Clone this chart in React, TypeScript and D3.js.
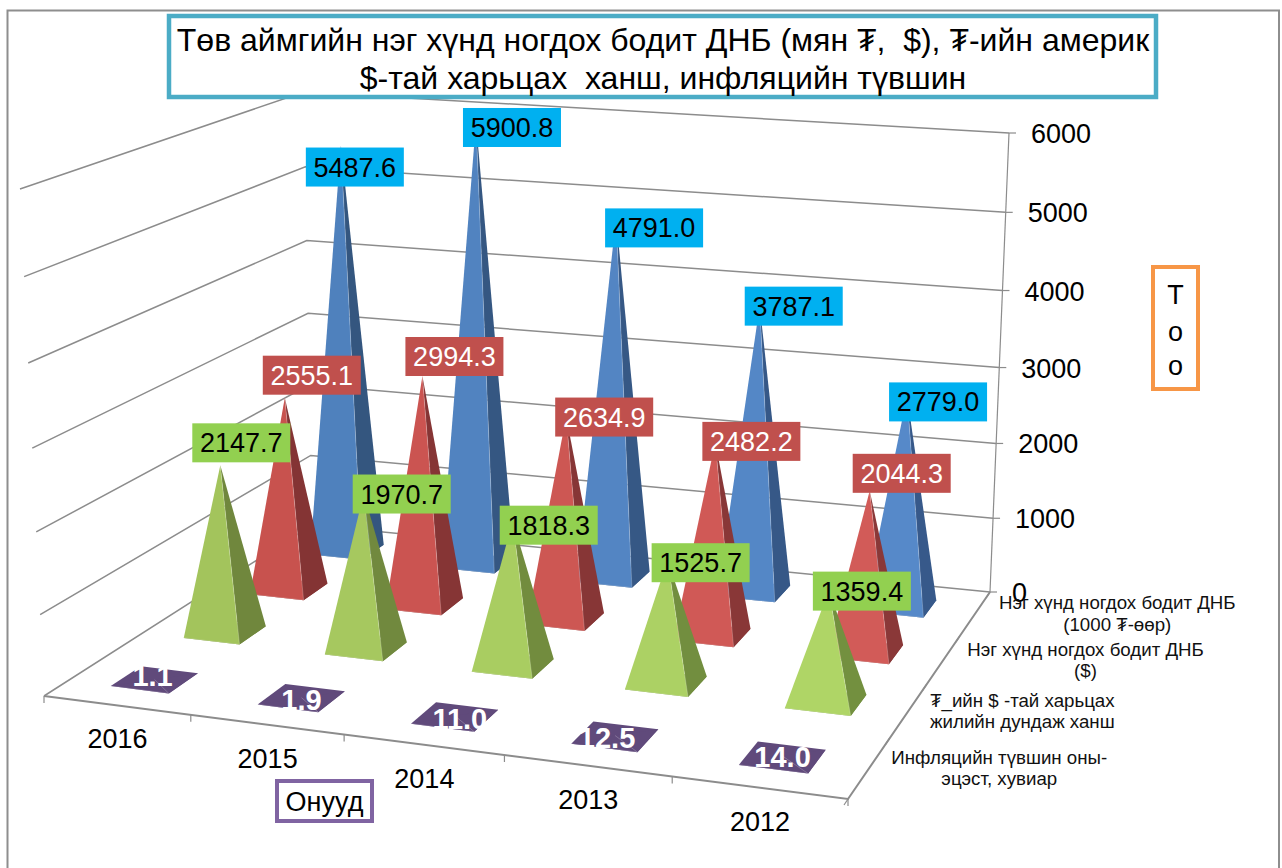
import * as d3 from 'd3';

const YEARS = ['2016', '2015', '2014', '2013', '2012'];
// front to back, the order they stand on the depth axis
const SERIES = ['inflation', 'rate', 'usd', 'mnt'];

const MNT_GDP = [5487.6, 5900.8, 4791.0, 3787.1, 2779.0];
const USD_GDP = [2555.1, 2994.3, 2634.9, 2482.2, 2044.3];
const RATE = [2147.7, 1970.7, 1818.3, 1525.7, 1359.4];
const INFLATION = [1.1, 1.9, 11.0, 12.5, 14.0];

const VALUE_TICKS = [0, 1000, 2000, 3000, 4000, 5000, 6000];

const SERIES_LABELS = [
  ['Инфляцийн түвшин оны-', 'эцэст, хувиар'],
  ['₮_ийн $ -тай харьцах', 'жилийн дундаж ханш'],
  ['Нэг хүнд ногдох бодит ДНБ', '($)'],
  ['Нэг хүнд ногдох бодит ДНБ', '(1000 ₮-өөр)'],
];

const TITLE_LINES = [
  'Төв аймгийн нэг хүнд ногдох бодит ДНБ (мян ₮,  $), ₮-ийн америк',
  '$-тай харьцах  ханш, инфляцийн түвшин',
];

const FONT = '"Liberation Sans", Arial, sans-serif';
const GRID = '#8c8c8c';

type Pt = [number, number];

// camera of the 3D box: corners of the floor and of the top plane, in the order
// front-left, front-right, back-right, back-left
const FLOOR: Pt[] = [[44, 696], [848, 799], [990, 592], [312, 525]];
const CEILING: Pt[] = [[20, 189], [864, 252], [1009, 133], [304, 92]];
const DEPTH_SQUEEZE = 1.045;

function quadMap(q: Pt[]) {
  const [[x0, y0], [x1, y1], [x2, y2], [x3, y3]] = q;
  const dx1 = x1 - x2, dx2 = x3 - x2, sx = x0 - x1 + x2 - x3;
  const dy1 = y1 - y2, dy2 = y3 - y2, sy = y0 - y1 + y2 - y3;
  const den = dx1 * dy2 - dx2 * dy1;
  const g = (sx * dy2 - dx2 * sy) / den;
  const h = (dx1 * sy - sx * dy1) / den;
  const a = x1 - x0 + g * x1, b = x3 - x0 + h * x3;
  const d = y1 - y0 + g * y1, e = y3 - y0 + h * y3;
  return (u: number, v: number): Pt => {
    const k = g * u + h * v + 1;
    return [(a * u + b * v + x0) / k, (d * u + e * v + y0) / k];
  };
}

const floorAt = quadMap(FLOOR);
const ceilingAt = quadMap(CEILING);

function project(u: number, v: number, w: number): Pt {
  const p0 = floorAt(u, v);
  const p1 = ceilingAt(u, v);
  const t = w / (w + (1 - w) * DEPTH_SQUEEZE);
  return [p0[0] + (p1[0] - p0[0]) * t, p0[1] + (p1[1] - p0[1]) * t];
}

const uScale = d3.scaleBand<string>().domain(YEARS).range([0, 1]).paddingInner(0.6).paddingOuter(0.3);
const vScale = d3.scaleBand<string>().domain(SERIES).range([0, 1]).paddingInner(0.6).paddingOuter(0.3);
const wScale = d3.scaleLinear().domain([0, 6000]).range([0, 1]);
const uStep = uScale.step();
const vStep = vScale.step();

const polyLine = d3.line<Pt>();
const poly = (pts: Pt[]) => polyLine(pts) + 'Z';

// hand-placed data labels: shift from the apex to the box (centre x, bottom y)
const LABEL_DX_MNT = [14, 36, 38, 34, 31];
const LABEL_DX_USD = [27, 32, 38, 36, 32];
const LABEL_DX_RATE = [21, 38, 36, 33, 33];
const LABEL_DY_MNT = [41, 25, 30, 20, 26];
const LABEL_DY_USD = [-3, 0, 20, 19, 2];
const LABEL_DY_RATE = [-3, 20, 24, 22, 20];
const TILE_LABEL_DX = [-2, 0, 5, -8, 0];
const TILE_LABEL_DY = [-4, 2, 2, 1, 0];
const SERIES_LABEL_DX = [130, 114, 142, 142];
const AXIS_TITLE_ROWS = [295, 332, 366];

const PYRAMIDS = [
  { key: 'mnt', values: MNT_GDP, dx: LABEL_DX_MNT, dy: LABEL_DY_MNT, front: ['#4f81bd', '#5689c9'], side: ['#34567f', '#37598a'], box: '#00b0f0', ink: '#000' },
  { key: 'usd', values: USD_GDP, dx: LABEL_DX_USD, dy: LABEL_DY_USD, front: ['#c8524e', '#d25b58'], side: ['#843434', '#8a3838'], box: '#c0504d', ink: '#fff' },
  { key: 'rate', values: RATE, dx: LABEL_DX_RATE, dy: LABEL_DY_RATE, front: ['#a3c45c', '#afd566'], side: ['#70873d', '#73903f'], box: '#92d050', ink: '#000' },
];

function Pyramid({ year, series, value, front, side }: { year: string; series: string; value: number; front: string; side: string }) {
  const u0 = uScale(year)!, u1 = u0 + uScale.bandwidth();
  const v0 = vScale(series)!, v1 = v0 + vScale.bandwidth();
  const apex = project((u0 + u1) / 2, (v0 + v1) / 2, wScale(value));
  const a = project(u0, v0, 0), b = project(u1, v0, 0), c = project(u1, v1, 0), d = project(u0, v1, 0);
  return (
    <g>
      <path d={poly([a, b, c, d])} fill={side} />
      <path d={poly([b, c, apex])} fill={side} />
      <path d={poly([a, b, apex])} fill={front} />
      {/* soft bevel along the ridge and the front foot */}
      <path d={polyLine([a, b, apex])!} fill="none" stroke="#fff" strokeOpacity={0.22} strokeWidth={1} />
    </g>
  );
}

export default function App() {
  const colorT = d3.scaleLinear().domain([0, YEARS.length - 1]).range([0, 1]);
  const uTicks = d3.range(YEARS.length + 1).map(i => i * uStep);
  const vTicks = d3.range(SERIES.length + 1).map(i => i * vStep);

  return (
    <svg width={1282} height={868} style={{ position: 'fixed', left: 0, top: 0, background: '#fff' }} fontFamily={FONT}>
      {/* outer frame */}
      <path d="M7.5,868V10.5H1279V868" fill="none" stroke="#8e8e8e" strokeWidth={2} />

      {/* walls */}
      <g fill="none" stroke={GRID} strokeWidth={1.5}>
        {VALUE_TICKS.map(t => (
          <path key={t} d={polyLine([project(0, 0, wScale(t)), project(0, 1, wScale(t)), project(1, 1, wScale(t))])!} />
        ))}
        <path d={polyLine([project(1, 1, 0), project(1, 1, 1)])!} strokeWidth={1.2} />
        <path d={polyLine([project(0, 0, 0), project(1, 0, 0), project(1, 1, 0)])!} strokeWidth={2} />
        {VALUE_TICKS.map(t => {
          const [x, y] = project(1, 1, wScale(t));
          return <path key={t} d={`M${x},${y}h7`} strokeWidth={1.2} />;
        })}
        {uTicks.map(u => {
          const [x, y] = project(u, 0, 0);
          return <path key={u} d={`M${x},${y}v7`} strokeWidth={1.2} />;
        })}
        {vTicks.map(v => {
          const [x, y] = project(1, v, 0);
          return <path key={v} d={`M${x},${y}l-4,6`} strokeWidth={1.2} />;
        })}
      </g>

      {/* value axis */}
      {VALUE_TICKS.map(t => {
        const [x, y] = project(1, 1, wScale(t));
        return (
          <text key={t} x={x + 22} y={y + 1} fontSize={27} dominantBaseline="central" fill="#000">{t}</text>
        );
      })}

      {/* pyramids, back row first */}
      {PYRAMIDS.map(s => (
        <g key={s.key}>
          {YEARS.map((year, i) => (
            <Pyramid
              key={year}
              year={year}
              series={s.key}
              value={s.values[i]}
              front={d3.interpolateRgb(s.front[0], s.front[1])(colorT(i))}
              side={d3.interpolateRgb(s.side[0], s.side[1])(colorT(i))}
            />
          ))}
        </g>
      ))}
      {YEARS.map((year, i) => (
        <Pyramid key={year} year={year} series="inflation" value={INFLATION[i]} front="#604a7b" side="#604a7b" />
      ))}

      {/* inflation labels sit on the flat tiles */}
      {YEARS.map((year, i) => {
        const [x, y] = project(uScale(year)! + uScale.bandwidth() / 2, vScale('inflation')! + vScale.bandwidth() / 2, 0);
        return (
          <text key={year} x={x + TILE_LABEL_DX[i]} y={y + TILE_LABEL_DY[i]} textAnchor="middle" dominantBaseline="central" fontSize={29} fontWeight={700} fill="#fff">
            {INFLATION[i].toFixed(1)}
          </text>
        );
      })}

      {/* data labels */}
      {PYRAMIDS.map(s =>
        YEARS.map((year, i) => {
          const u = uScale(year)! + uScale.bandwidth() / 2;
          const v = vScale(s.key)! + vScale.bandwidth() / 2;
          const [x, y] = project(u, v, wScale(s.values[i]));
          const cx = x + s.dx[i];
          const bottom = y + s.dy[i];
          return (
            <g key={s.key + year}>
              <rect x={cx - 49} y={bottom - 39} width={98} height={39} fill={s.box} />
              <text x={cx} y={bottom - 19} textAnchor="middle" dominantBaseline="central" fontSize={27} fill={s.ink}>
                {s.values[i].toFixed(1)}
              </text>
            </g>
          );
        }),
      )}

      {/* category labels */}
      {YEARS.map(year => {
        const [x, y] = project(uScale(year)! + uScale.bandwidth() / 2, 0, 0);
        return (
          <text key={year} x={x + 1} y={y + 34} textAnchor="middle" dominantBaseline="central" fontSize={27} fill="#000">{year}</text>
        );
      })}

      {/* series labels on the depth axis */}
      {SERIES.map((s, i) => {
        const [x, y] = project(1, vScale(s)! + vScale.bandwidth() / 2, 0);
        return (
          <text key={s} x={x + SERIES_LABEL_DX[i]} y={y} textAnchor="middle" fontSize={18.7} fill="#111">
            {SERIES_LABELS[i].map((line, k) => (
              <tspan key={k} x={x + SERIES_LABEL_DX[i]} y={y - 10.5 + k * 21.5} dominantBaseline="central">{line}</tspan>
            ))}
          </text>
        );
      })}

      {/* chart title */}
      <rect x={169} y={16} width={987} height={81} fill="#fff" stroke="#4bacc6" strokeWidth={4.5} />
      {TITLE_LINES.map((line, i) => (
        <text key={i} x={663} y={39.5 + i * 38} textAnchor="middle" dominantBaseline="central" fontSize={32} fill="#000" style={{ whiteSpace: 'pre' }}>
          {line}
        </text>
      ))}

      {/* axis titles */}
      <rect x={277} y={781} width={95} height={40} fill="#fff" stroke="#8064a2" strokeWidth={4} />
      <text x={324.5} y={802} textAnchor="middle" dominantBaseline="central" fontSize={27} fill="#000">Онууд</text>
      <rect x={1153} y={267} width={45} height={122} fill="#fff" stroke="#f79646" strokeWidth={4} />
      {['Т', 'о', 'о'].map((ch, i) => (
        <text key={i} x={1175.5} y={AXIS_TITLE_ROWS[i]} textAnchor="middle" dominantBaseline="central" fontSize={27} fill="#000">{ch}</text>
      ))}
    </svg>
  );
}
